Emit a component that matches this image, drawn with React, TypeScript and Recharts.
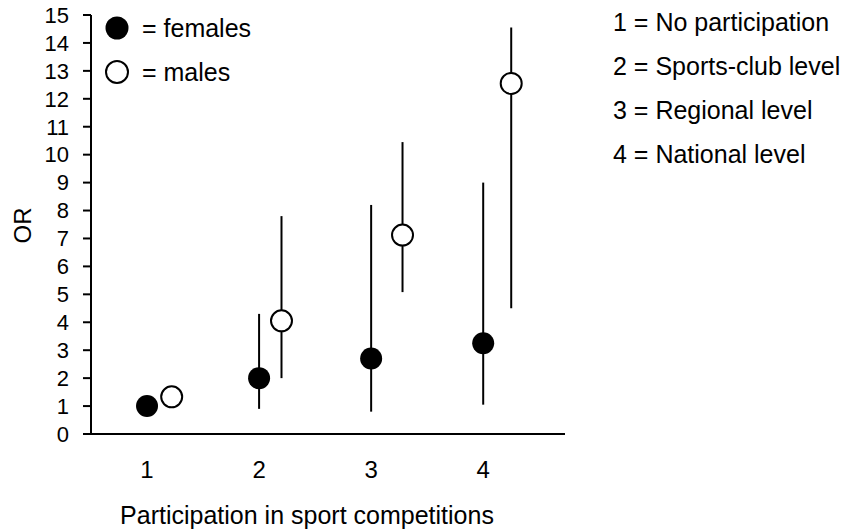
import React from 'react';
import {
    ComposedChart,
    Scatter,
    XAxis,
    YAxis,
    ErrorBar,
    Legend,
} from 'recharts';

// participation level: 1 = none ... 4 = national
const femaleLevel = [1, 2, 3, 4];
const femaleOR = [1.0, 2.0, 2.7, 3.25];
const femaleLow = [1.0, 0.9, 0.8, 1.05];
const femaleHigh = [1.0, 4.3, 8.2, 9.0];

// males are drawn a bit to the right of each level
const maleLevel = [1.22, 2.2, 3.28, 4.25];
const maleOR = [1.33, 4.05, 7.12, 12.55];
const maleLow = [1.33, 2.0, 5.08, 4.5];
const maleHigh = [1.33, 7.8, 10.45, 14.55];

const yTicks = [0, 1, 2, 3, 4, 5, 6, 7, 8, 9, 10, 11, 12, 13, 14, 15];
const xTicks = [1, 2, 3, 4];
const seriesNames = ['= females', '= males'];
const levelKey = [
    '1 = No participation',
    '2 = Sports-club level',
    '3 = Regional level',
    '4 = National level',
];

const FONT = '"Liberation Sans", Arial, sans-serif';

const toRows = (xs: number[], ys: number[], lo: number[], hi: number[]) =>
    xs.map((x, i) => ({ x, y: ys[i], err: [ys[i] - lo[i], hi[i] - ys[i]] }));

const females = toRows(femaleLevel, femaleOR, femaleLow, femaleHigh);
const males = toRows(maleLevel, maleOR, maleLow, maleHigh);

const FilledDot = (p: any) => <circle cx={p.cx} cy={p.cy} r={11} fill="#000" />;
const OpenDot = (p: any) => (
    <circle cx={p.cx} cy={p.cy} r={10.5} fill="#fff" stroke="#000" strokeWidth={2} />
);

const XTick = (p: any) => (
    <text x={p.x} y={p.y} dy="0.71em" textAnchor="middle" fontFamily={FONT} fontSize={24} fill="#000">
        {p.payload.value}
    </text>
);

const YTick = (p: any) => (
    <text x={p.x} y={p.y} dy="0.355em" textAnchor="end" fontFamily={FONT} fontSize={22} fill="#000">
        {p.payload.value}
    </text>
);

const SeriesKey = () => (
    <div style={{ fontFamily: FONT, fontSize: 25, color: '#000' }}>
        {seriesNames.map((name, i) => (
            <div key={name} style={{ display: 'flex', alignItems: 'center', height: 44 }}>
                <svg width={26} height={26} style={{ marginRight: 12 }}>
                    {i === 0 ? (
                        <circle cx={13} cy={13} r={11.5} fill="#000" />
                    ) : (
                        <circle cx={13} cy={13} r={11} fill="#fff" stroke="#000" strokeWidth={2} />
                    )}
                </svg>
                <span>{name}</span>
            </div>
        ))}
    </div>
);

const YLabel = (props: any) => {
    const { viewBox } = props;
    const cx = 22;
    const cy = viewBox.y + viewBox.height / 2 + 1;
    return (
        <text
            x={cx}
            y={cy}
            transform={`rotate(-90, ${cx}, ${cy})`}
            textAnchor="middle"
            dominantBaseline="central"
            fontFamily={FONT}
            fontSize={24}
            fill="#000"
        >
            OR
        </text>
    );
};

export default function App() {
    return (
        <div style={{ position: 'absolute', left: 0, top: 0, width: 853, height: 531, background: '#fff' }}>
            <ComposedChart
                width={853}
                height={531}
                margin={{ top: 15, right: 288, bottom: 7, left: 31 }}
            >
                <XAxis
                    type="number"
                    dataKey="x"
                    domain={[0.5, 4.73]}
                    ticks={xTicks}
                    allowDataOverflow
                    tickLine={false}
                    tickSize={0}
                    tickMargin={27}
                    height={90}
                    axisLine={{ stroke: '#000', strokeWidth: 2 }}
                    tick={<XTick />}
                    label={{
                        value: 'Participation in sport competitions',
                        position: 'insideBottom',
                        offset: 0,
                        dx: -21,
                        fill: '#000',
                        fontSize: 25,
                        fontFamily: FONT,
                    }}
                />
                <YAxis
                    type="number"
                    dataKey="y"
                    domain={[0, 15]}
                    ticks={yTicks}
                    interval={0}
                    width={60}
                    tickSize={8}
                    tickMargin={14}
                    axisLine={{ stroke: '#000', strokeWidth: 2 }}
                    tickLine={{ stroke: '#000', strokeWidth: 2 }}
                    tick={<YTick />}
                    label={<YLabel />}
                />
                <Scatter
                    name={seriesNames[0]}
                    data={females}
                    shape={FilledDot}
                    fill="#000"
                    isAnimationActive={false}
                >
                    <ErrorBar dataKey="err" direction="y" width={0} stroke="#000" strokeWidth={2} />
                </Scatter>
                <Scatter
                    name={seriesNames[1]}
                    data={males}
                    shape={OpenDot}
                    fill="#fff"
                    isAnimationActive={false}
                >
                    <ErrorBar dataKey="err" direction="y" width={0} stroke="#000" strokeWidth={2} />
                </Scatter>
                <Legend
                    layout="vertical"
                    align="center"
                    verticalAlign="middle"
                    content={<SeriesKey />}
                    wrapperStyle={{ left: 104, top: 6, width: 'auto', height: 'auto' }}
                />
            </ComposedChart>
            <div
                style={{
                    position: 'absolute',
                    left: 613,
                    top: 0,
                    fontFamily: FONT,
                    fontSize: 25,
                    color: '#000',
                }}
            >
                {levelKey.map((t) => (
                    <div key={t} style={{ height: 44, lineHeight: '44px' }}>
                        {t}
                    </div>
                ))}
            </div>
        </div>
    );
}
